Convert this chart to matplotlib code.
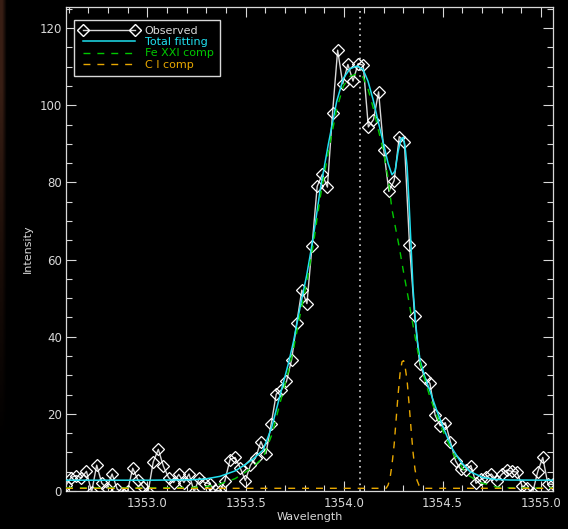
import matplotlib
matplotlib.use("Agg")
import matplotlib.pyplot as plt
import numpy as np
from matplotlib.lines import Line2D
from matplotlib.ticker import MultipleLocator

# observed spectrum
wave = [1352.587, 1352.613, 1352.639, 1352.665, 1352.691, 1352.717, 1352.743, 1352.769,
        1352.795, 1352.821, 1352.847, 1352.873, 1352.900, 1352.926, 1352.952, 1352.978,
        1353.004, 1353.030, 1353.056, 1353.082, 1353.108, 1353.134, 1353.160, 1353.186,
        1353.212, 1353.238, 1353.264, 1353.290, 1353.316, 1353.342, 1353.368, 1353.394,
        1353.420, 1353.446, 1353.472, 1353.498, 1353.524, 1353.550, 1353.577, 1353.603,
        1353.629, 1353.655, 1353.681, 1353.707, 1353.733, 1353.759, 1353.785, 1353.811,
        1353.837, 1353.863, 1353.889, 1353.915, 1353.941, 1353.967, 1353.993, 1354.019,
        1354.045, 1354.071, 1354.097, 1354.123, 1354.149, 1354.175, 1354.201, 1354.227,
        1354.254, 1354.280, 1354.306, 1354.332, 1354.358, 1354.384, 1354.410, 1354.436,
        1354.462, 1354.488, 1354.514, 1354.540, 1354.566, 1354.592, 1354.618, 1354.644,
        1354.670, 1354.696, 1354.722, 1354.748, 1354.774, 1354.800, 1354.826, 1354.852,
        1354.878, 1354.904, 1354.931, 1354.957, 1354.983, 1355.009, 1355.035, 1355.061]
observed = [1.5, 3.5, 4.0, 3.4, 5.1, -0.3, 6.7, 2.0, 0.8, 4.4, 0.5, -0.4, 0.1, 5.9, 2.9, 1.1,
            -0.3, 7.5, 10.8, 6.4, 3.5, 2.2, 4.3, 2.2, 4.4, -0.2, 3.4, 2.2, 1.9, 0.3, 0.0, 2.6,
            8.1, 8.7, 6.0, 2.7, 6.7, 8.6, 12.8, 9.7, 17.3, 25.1, 26.2, 28.4, 34.0, 43.5, 52.1, 48.6,
            63.6, 79.0, 82.1, 78.8, 98.0, 114.3, 105.6, 110.6, 106.3, 110.8, 110.4, 94.4, 96.3, 103.5,
            88.5, 77.7, 80.5, 91.9, 90.6, 63.8, 45.5, 32.9, 29.3, 27.9, 19.7, 16.9, 17.7, 12.8,
            7.8, 5.6, 5.5, 6.6, 2.0, 3.0, 3.6, 4.4, 2.6, 4.3, 5.4, 5.1, 4.9, 1.3, 0.7, -0.5,
            4.9, 8.7, 1.8, 1.7]

# total fit
fit_wave = [1352.587, 1353.014, 1353.217, 1353.293, 1353.369, 1353.446, 1353.496, 1353.537,
            1353.588, 1353.632, 1353.683, 1353.716, 1353.742, 1353.776, 1353.810, 1353.843,
            1353.878, 1353.920, 1353.962, 1353.996, 1354.030, 1354.066, 1354.096, 1354.121,
            1354.147, 1354.172, 1354.198, 1354.223, 1354.243, 1354.259, 1354.274, 1354.289,
            1354.299, 1354.309, 1354.320, 1354.330, 1354.340, 1354.350, 1354.360, 1354.372,
            1354.386, 1354.411, 1354.437, 1354.471, 1354.504, 1354.547, 1354.589, 1354.640,
            1354.706, 1354.767, 1354.843, 1355.062]
fit_total = [2.8, 2.8, 2.9, 3.1, 3.8, 5.2, 6.8, 8.3, 10.6, 16.5, 26.5, 32.9, 38.6, 47.6, 56.0, 65.8,
             78.0, 90.0, 101.0, 107.0, 109.5, 110.2, 109.3, 106.3, 101.5, 96.0, 90.5, 85.0, 82.0, 83.0,
             88.0, 91.3, 91.7, 89.5, 84.0, 74.5, 63.5, 52.5, 45.5, 39.0, 33.8, 29.4, 25.8, 20.8,
             16.4, 11.2, 7.8, 5.0, 3.5, 3.0, 2.85, 2.8]

# Fe XXI component
fe_wave = [1352.587, 1353.014, 1353.217, 1353.293, 1353.369, 1353.446, 1353.496, 1353.537,
           1353.588, 1353.632, 1353.683, 1353.716, 1353.742, 1353.776, 1353.810, 1353.843,
           1353.878, 1353.920, 1353.962, 1353.996, 1354.030, 1354.066, 1354.096, 1354.121,
           1354.147, 1354.172, 1354.198, 1354.223, 1354.243, 1354.279, 1354.301, 1354.326,
           1354.343, 1354.369, 1354.394, 1354.437, 1354.487, 1354.555, 1354.623, 1354.691,
           1354.775, 1354.843, 1355.062]
fe_comp = [0.8, 0.8, 0.9, 1.1, 1.8, 3.2, 4.8, 6.3, 8.6, 14.5, 24.5, 30.9, 36.6, 45.6, 54.0, 63.8,
           76.0, 88.0, 99.0, 105.0, 107.5, 108.2, 107.3, 104.3, 99.5, 94.0, 88.5, 81.2, 73.0, 63.5,
           57.0, 50.0, 45.0, 37.5, 31.5, 24.2, 17.3, 9.5, 4.3, 2.2, 1.0, 0.8, 0.8]

# C I component
ci_wave = [1352.587, 1354.213, 1354.223, 1354.233, 1354.243, 1354.254, 1354.264, 1354.274,
           1354.284, 1354.294, 1354.302, 1354.309, 1354.320, 1354.330, 1354.340, 1354.350,
           1354.360, 1354.370, 1354.381, 1354.391, 1354.406, 1355.062]
ci_comp = [0.7, 0.7, 1.5, 3.3, 6.8, 12.0, 18.5, 25.0, 30.5, 33.5, 33.8, 32.5, 28.5, 22.5, 16.0,
           10.0, 5.6, 2.8, 1.4, 0.9, 0.7, 0.7]

line_center = 1354.080

fg = '#d8d8d8'
cyan = '#1fe0f0'
green = '#00c800'
orange = '#e8a800'

fig = plt.figure(figsize=(5.68, 5.29), dpi=100, facecolor='black')

# dark brownish strip at the left edge of the screenshot
strip = fig.add_axes([0, 0, 9 / 568, 1])
strip.imshow(np.array([[[0.22, 0.12, 0.08], [0.0, 0.0, 0.0]],
                       [[0.10, 0.05, 0.03], [0.0, 0.0, 0.0]],
                       [[0.0, 0.0, 0.0], [0.0, 0.0, 0.0]]]),
             aspect='auto', interpolation='bilinear', extent=(0, 1, 0, 1))
strip.set_axis_off()

ax = fig.add_axes([66 / 568, 38 / 529, 487 / 568, 484 / 529], facecolor='black')

ax.plot(wave, observed, color=fg, lw=1.0, marker='D', ms=6, mfc='none', mec='white', mew=0.9,
        zorder=3)
ax.plot(fit_wave, fit_total, color=cyan, lw=1.1, zorder=4)
ax.plot(fe_wave, fe_comp, color=green, lw=1.0, ls=(0, (5, 5)), zorder=5)
ax.plot(ci_wave, ci_comp, color=orange, lw=1.0, ls=(0, (5, 5)), zorder=5)
ax.axvline(line_center, color=fg, lw=1.2, ls=(0, (1, 2.5)), zorder=2)

ax.set_xlim(1352.587, 1355.061)
ax.set_ylim(0, 125.5)

ax.xaxis.set_major_locator(MultipleLocator(0.5))
ax.xaxis.set_minor_locator(MultipleLocator(0.1))
ax.yaxis.set_major_locator(MultipleLocator(20))
ax.yaxis.set_minor_locator(MultipleLocator(5))
ax.xaxis.set_major_formatter(plt.FuncFormatter(lambda v, p: '%.1f' % v))

ax.tick_params(which='both', direction='in', top=True, right=True, color=fg,
               labelcolor=fg, labelsize=8.5, width=0.8)
ax.tick_params(which='major', length=7.5, pad=4)
ax.tick_params(axis='y', which='major', pad=3)
ax.tick_params(which='minor', length=4)
for s in ax.spines.values():
    s.set_color(fg)
    s.set_linewidth(0.9)

ax.set_xlabel('Wavelength', color=fg, fontsize=8, labelpad=2)
ax.set_ylabel('Intensity', color=fg, fontsize=8, labelpad=5)

fig.text(0.535, 1 - 3 / 529, 'Fe XXI 1354', color=fg, fontsize=9, ha='center', va='bottom')

handles = [
    Line2D([], [], color=fg, lw=1.0, marker='D', ms=6, mfc='none', mec='white'),
    Line2D([], [], color=cyan, lw=1.1),
    Line2D([], [], color=green, lw=1.0, ls=(0, (5, 5))),
    Line2D([], [], color=orange, lw=1.0, ls=(0, (5, 5))),
]
labels = ['Observed', 'Total fitting', 'Fe XXI comp', 'C I comp']
leg = ax.legend(handles, labels, loc='upper left', bbox_to_anchor=(0.0164, 0.973),
                borderaxespad=0, numpoints=2, fontsize=8, handlelength=5.2,
                handletextpad=0.6, labelspacing=0.1, borderpad=0.55, fancybox=False,
                facecolor='black', edgecolor=fg, framealpha=1,
                labelcolor=[fg, cyan, green, orange])
leg.get_frame().set_linewidth(1.0)

fig.savefig('out.png', dpi=100, facecolor='black')
